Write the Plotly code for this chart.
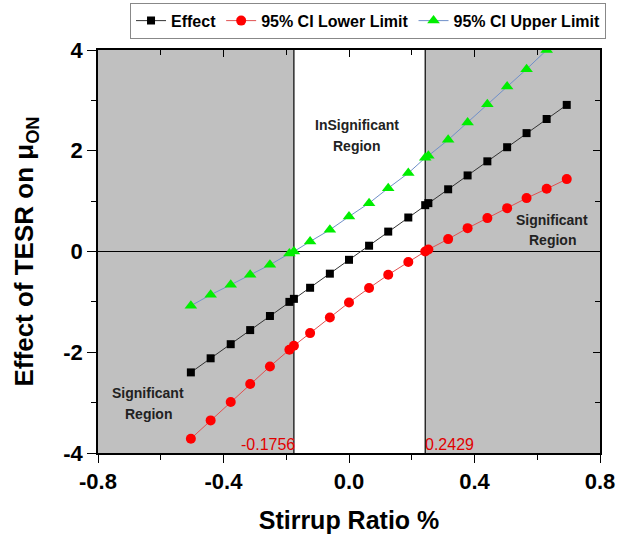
import plotly.graph_objects as go

# ---- data ----
x_reg = [-0.504, -0.441, -0.377, -0.315, -0.252, -0.190, -0.124, -0.061, 0.000, 0.064,
         0.125, 0.189, 0.253, 0.316, 0.378, 0.441, 0.504, 0.566, 0.630, 0.694]
effect_reg = [-2.40, -2.12, -1.84, -1.56, -1.28, -1.00, -0.72, -0.44, -0.165, 0.115,
              0.395, 0.675, 0.96, 1.235, 1.51, 1.79, 2.07, 2.35, 2.63, 2.91]
lower_reg = [-3.716, -3.353, -2.988, -2.631, -2.282, -1.950, -1.62, -1.31, -1.012, -0.726,
             -0.462, -0.21, 0.04, 0.246, 0.464, 0.663, 0.861, 1.06, 1.244, 1.437]
upper_reg = [-1.077, -0.859, -0.661, -0.462, -0.264, -0.04, 0.198, 0.43, 0.694, 0.96,
             1.258, 1.556, 1.90, 2.216, 2.56, 2.925, 3.274, 3.62, 4.00, 4.38]

jn_points = [-0.1756, 0.2429]
effect_jn = [-0.94, 0.92]
lower_jn = [-1.871, 0.0]
upper_jn = [0.0, 1.86]

jn_labels = ["-0.1756", "0.2429"]
x_ticks = [-0.8, -0.4, 0.0, 0.4, 0.8]
x_ticktext = ["-0.8", "-0.4", "0.0", "0.4", "0.8"]
y_ticks = [-4, -2, 0, 2, 4]
y_ticktext = ["-4", "-2", "0", "2", "4"]


def merged(xs, ys, xj, yj):
    pts = sorted(list(zip(xs, ys)) + list(zip(xj, yj)))
    return [p[0] for p in pts], [p[1] for p in pts]


xe, ye = merged(x_reg, effect_reg, jn_points, effect_jn)
xl, yl = merged(x_reg, lower_reg, jn_points, lower_jn)
xu, yu = merged(x_reg, upper_reg, jn_points, upper_jn)

FONT = "Liberation Sans, Arial, sans-serif"

fig = go.Figure()
fig.add_trace(go.Scatter(x=xe, y=ye, mode="lines+markers", name="Effect",
                         line=dict(color="#333333", width=1),
                         marker=dict(symbol="square", size=8, color="black")))
fig.add_trace(go.Scatter(x=xl, y=yl, mode="lines+markers", name="95% CI Lower Limit",
                         line=dict(color="#e05050", width=1),
                         marker=dict(symbol="circle", size=10, color="#ff0000")))
fig.add_trace(go.Scatter(x=xu, y=yu, mode="lines+markers", name="95% CI Upper Limit",
                         line=dict(color="#6f8fc8", width=1),
                         marker=dict(symbol="triangle-up", size=11, color="#00ee00")))
# dummy trace for the mirrored (top/right) axes
fig.add_trace(go.Scatter(x=[0], y=[0], xaxis="x2", yaxis="y2", mode="markers",
                         marker=dict(opacity=0), showlegend=False, hoverinfo="skip"))

# shaded significant regions and reference lines
fig.add_shape(type="rect", x0=-0.8, x1=jn_points[0], y0=-4, y1=4,
              fillcolor="#c0c0c0", line=dict(width=0), layer="below")
fig.add_shape(type="rect", x0=jn_points[1], x1=0.8, y0=-4, y1=4,
              fillcolor="#c0c0c0", line=dict(width=0), layer="below")
for xv in jn_points:
    fig.add_shape(type="line", x0=xv, x1=xv, y0=-4, y1=4,
                  line=dict(color="black", width=1.2), layer="below")
fig.add_shape(type="line", x0=-0.8, x1=0.8, y0=0, y1=0,
              line=dict(color="black", width=1.2), layer="below")

fig.add_annotation(x=jn_points[0], y=-4, text=jn_labels[0], showarrow=False,
                   xanchor="right", yanchor="bottom", xshift=3, yshift=-2,
                   font=dict(family=FONT, size=16, color="#e00000"))
fig.add_annotation(x=jn_points[1], y=-4, text=jn_labels[1], showarrow=False,
                   xanchor="left", yanchor="bottom", xshift=-2, yshift=-2,
                   font=dict(family=FONT, size=16, color="#e00000"))

lab_font = dict(family=FONT, size=14, color="#222222", weight="bold")
region_labels = [
    (0.025, 2.52, "InSignificant"), (0.025, 2.09, "Region"),
    (0.648, 0.62, "Significant"), (0.648, 0.22, "Region"),
    (-0.640, -2.80, "Significant"), (-0.640, -3.22, "Region"),
]
for xa, ya, txt in region_labels:
    fig.add_annotation(x=xa, y=ya, text=txt, showarrow=False, font=lab_font)

tickfont = dict(family=FONT, size=22, color="black", weight="bold")
titlefont = dict(family=FONT, size=25, color="black", weight="bold")
fig.update_layout(
    width=618, height=536,
    paper_bgcolor="white", plot_bgcolor="white",
    margin=dict(l=98, r=18, t=50, b=83, autoexpand=False),
    font=dict(family=FONT),
    showlegend=True,
    legend=dict(orientation="h", x=1.012, xanchor="right", y=1.028, yanchor="bottom",
                bordercolor="#888888", borderwidth=1, bgcolor="white",
                font=dict(family=FONT, size=16, color="black", weight="bold"),
                itemwidth=30, tracegroupgap=0),
    xaxis=dict(range=[-0.8, 0.8], tickvals=x_ticks, ticktext=x_ticktext,
               ticks="outside", ticklen=8, tickwidth=1.2, tickcolor="black",
               minor=dict(dtick=0.2, tick0=0, ticks="outside", ticklen=5, tickcolor="black"),
               showline=True, linecolor="black", linewidth=1.5, mirror=True,
               showgrid=False, zeroline=False, tickfont=tickfont,
               title=dict(text="Stirrup Ratio %", standoff=18, font=titlefont)),
    yaxis=dict(range=[-4, 4], tickvals=y_ticks, ticktext=y_ticktext,
               ticks="outside", ticklen=9, tickwidth=1.2, tickcolor="black",
               minor=dict(dtick=1, tick0=0, ticks="outside", ticklen=5, tickcolor="black"),
               showline=True, linecolor="black", linewidth=1.5, mirror=True,
               showgrid=False, zeroline=False, tickfont=tickfont,
               title=dict(text="Effect of TESR on μ<sub>ON</sub>", standoff=22,
                          font=dict(family=FONT, size=26, color="black", weight="bold"))),
    xaxis2=dict(range=[-0.8, 0.8], overlaying="x", side="top", showticklabels=False,
                tickvals=x_ticks, ticks="inside", ticklen=7, tickcolor="black",
                minor=dict(dtick=0.2, tick0=0, ticks="inside", ticklen=5, tickcolor="black"),
                showgrid=False, zeroline=False, showline=False),
    yaxis2=dict(range=[-4, 4], overlaying="y", side="right", showticklabels=False,
                tickvals=y_ticks, ticks="inside", ticklen=7, tickcolor="black",
                minor=dict(dtick=1, tick0=0, ticks="inside", ticklen=5, tickcolor="black"),
                showgrid=False, zeroline=False, showline=False, anchor="x2"),
)

fig.write_html("out.html", config={"displayModeBar": False},
               post_script="document.body.style.margin='0px';document.body.style.padding='0px';")
